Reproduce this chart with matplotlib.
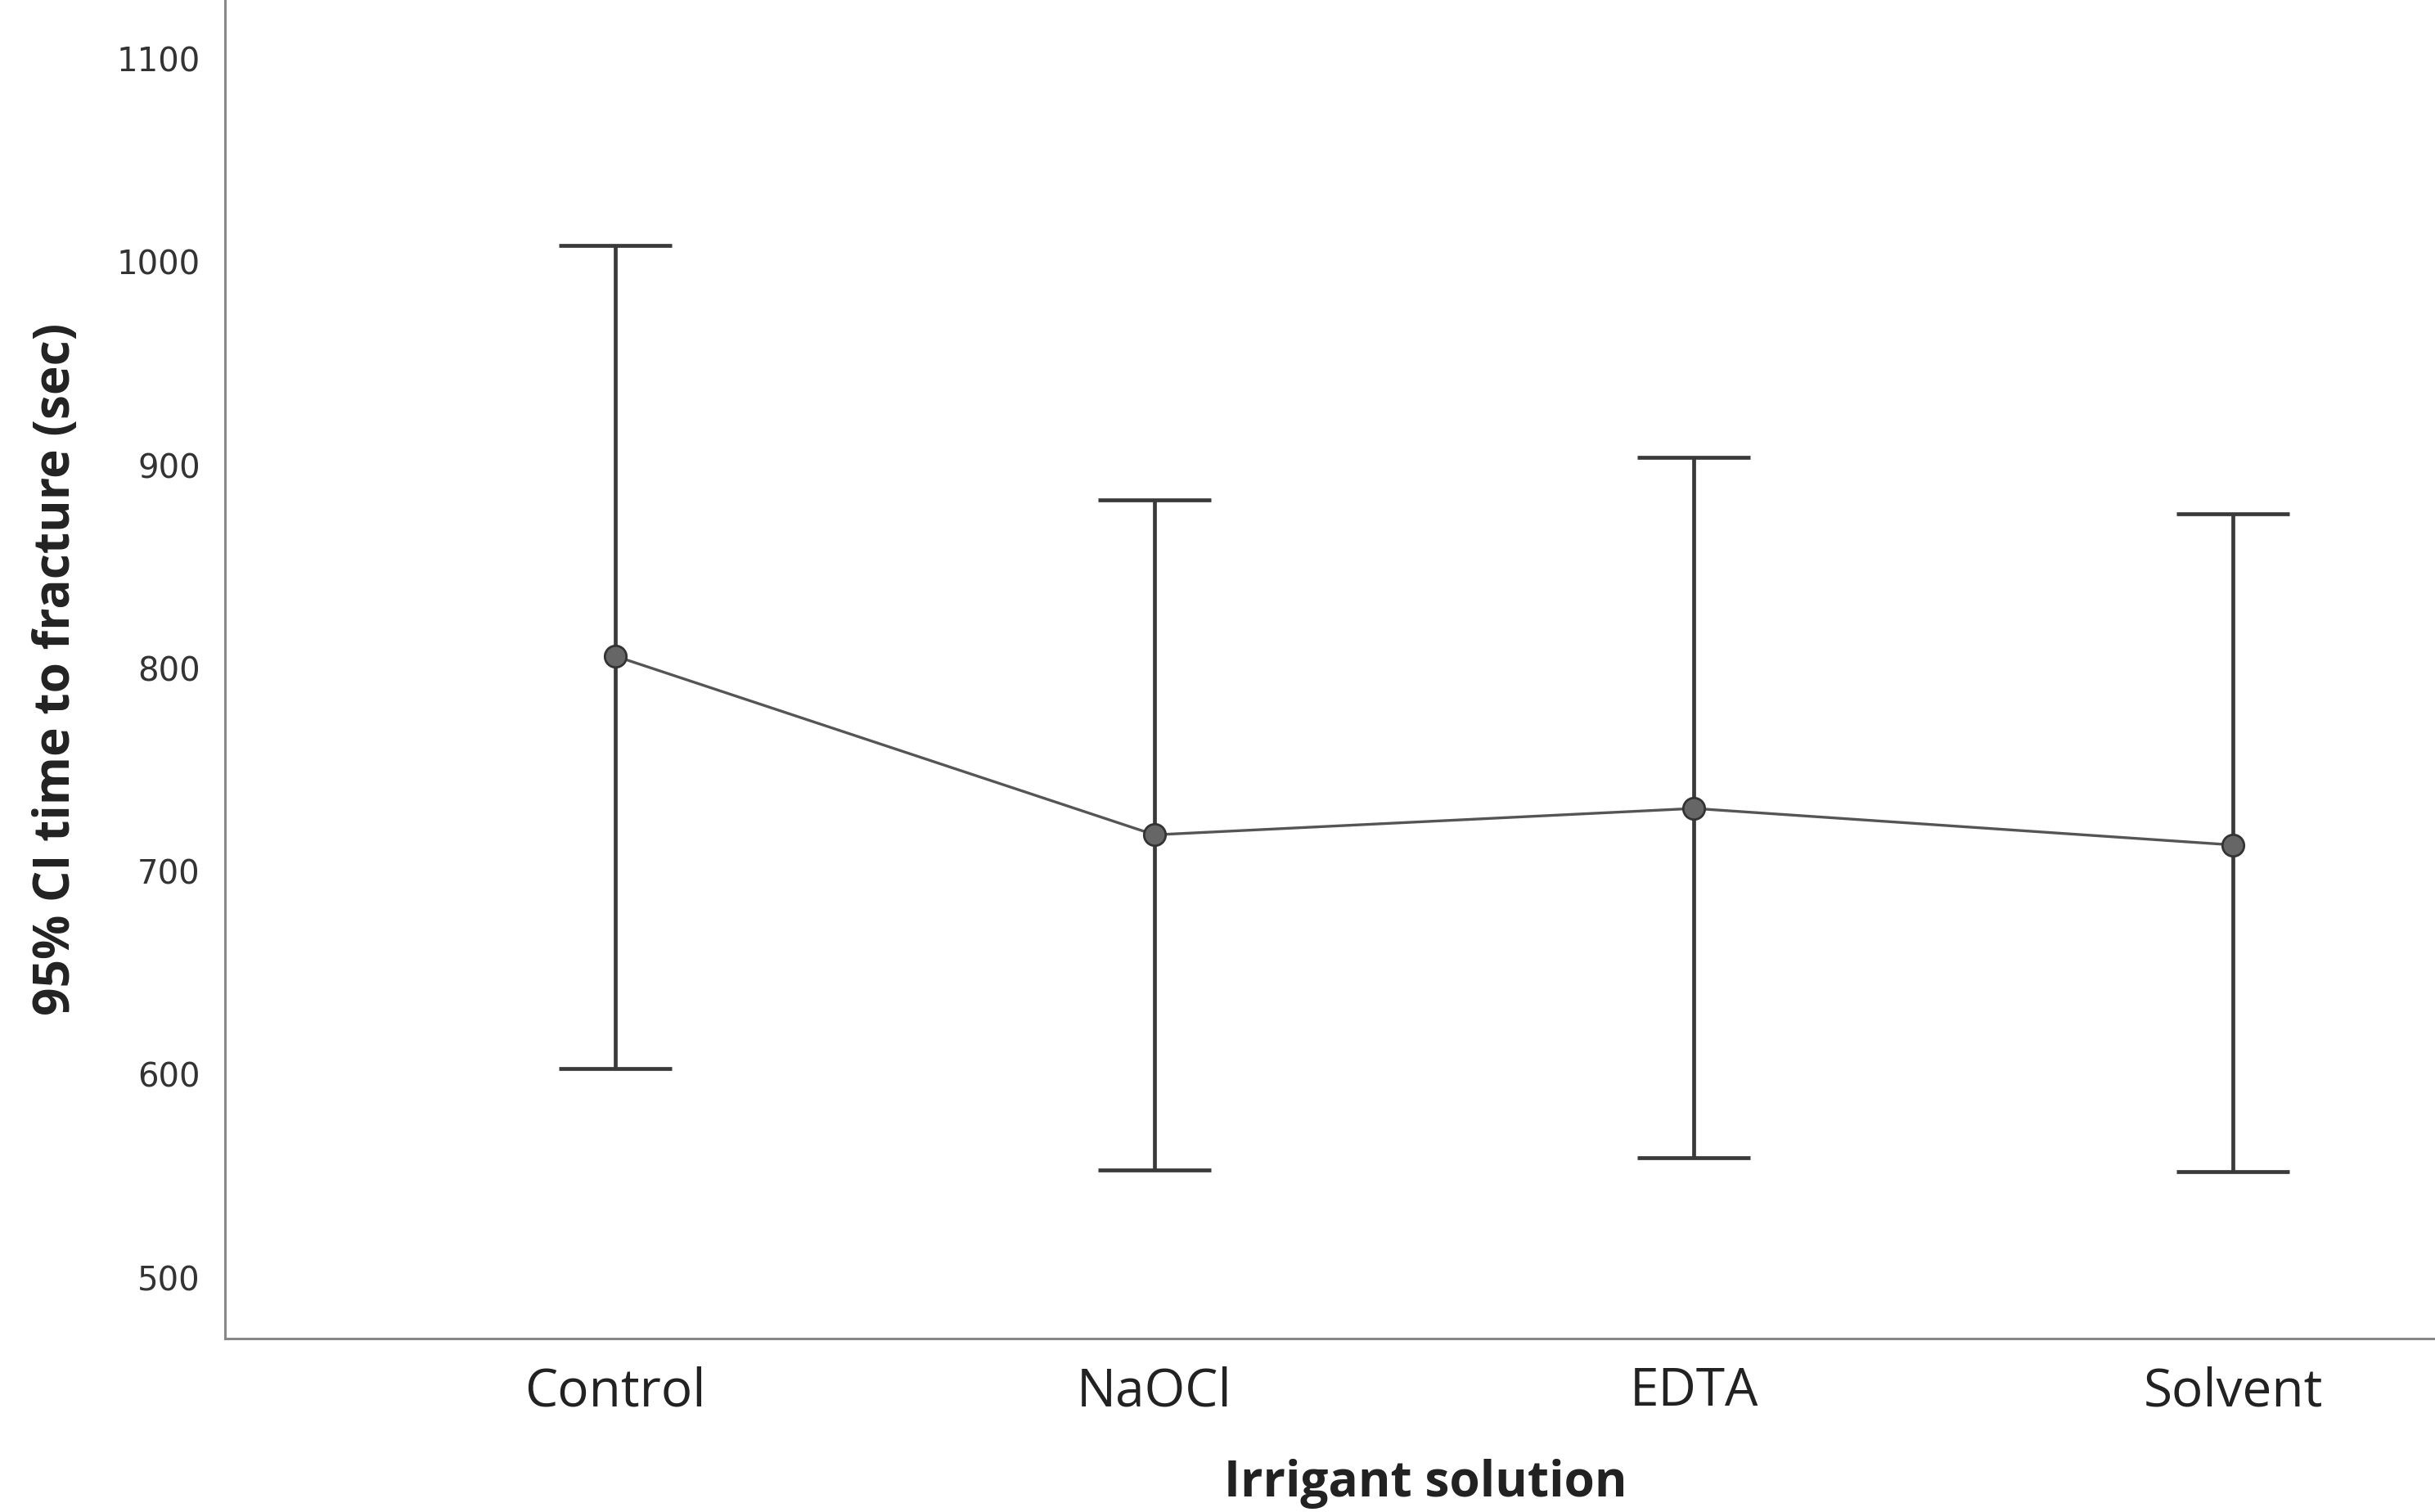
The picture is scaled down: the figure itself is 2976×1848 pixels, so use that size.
import matplotlib.pyplot as plt
import numpy as np

groups = ["Control", "NaOCl", "EDTA", "Solvent"]
means = [806, 718, 731, 713]
ci_low = [603, 553, 559, 552]
ci_high = [1008, 883, 904, 876]

x = np.arange(len(groups))
means = np.array(means)
err = [means - np.array(ci_low), np.array(ci_high) - means]

fig = plt.figure(figsize=(29.76, 18.48), dpi=100)
ax = fig.add_axes([0.0925, 0.1147, 0.9075, 0.8853])

ax.errorbar(x, means, yerr=err, fmt="none", ecolor="#3a3a3a",
            elinewidth=3.4, capsize=50, capthick=3.4, zorder=2)
ax.plot(x, means, color="#555555", linewidth=2.4, marker="o",
        markersize=19, markerfacecolor="#666666", markeredgecolor="#333333",
        markeredgewidth=2, zorder=3)

ax.set_xlim(-0.723, 3.374)
ax.set_ylim(470, 1129)
ax.set_yticks([500, 600, 700, 800, 900, 1000, 1100])
ax.set_xticks(x)
ax.set_xticklabels(groups, fontfamily="Open Sans", fontsize=46, color="#222222")
ax.tick_params(axis="y", length=0, pad=22, labelsize=29, labelcolor="#333333")
ax.tick_params(axis="x", length=0, pad=24)

for s in ["top", "right"]:
    ax.spines[s].set_visible(False)
for s in ["left", "bottom"]:
    ax.spines[s].set_color("#888888")
    ax.spines[s].set_linewidth(2.2)

ax.set_ylabel("95% CI time to fracture (sec)", fontfamily="Open Sans",
              fontweight="bold", fontsize=43.5, color="#222222")
ax.yaxis.set_label_coords(-0.065, 0.5)
ax.set_xlabel("Irrigant solution", fontfamily="Open Sans",
              fontweight="bold", fontsize=43.5, color="#222222", va="top")
ax.xaxis.set_label_coords(0.543, -0.090)

fig.savefig("out.png", dpi=100)
